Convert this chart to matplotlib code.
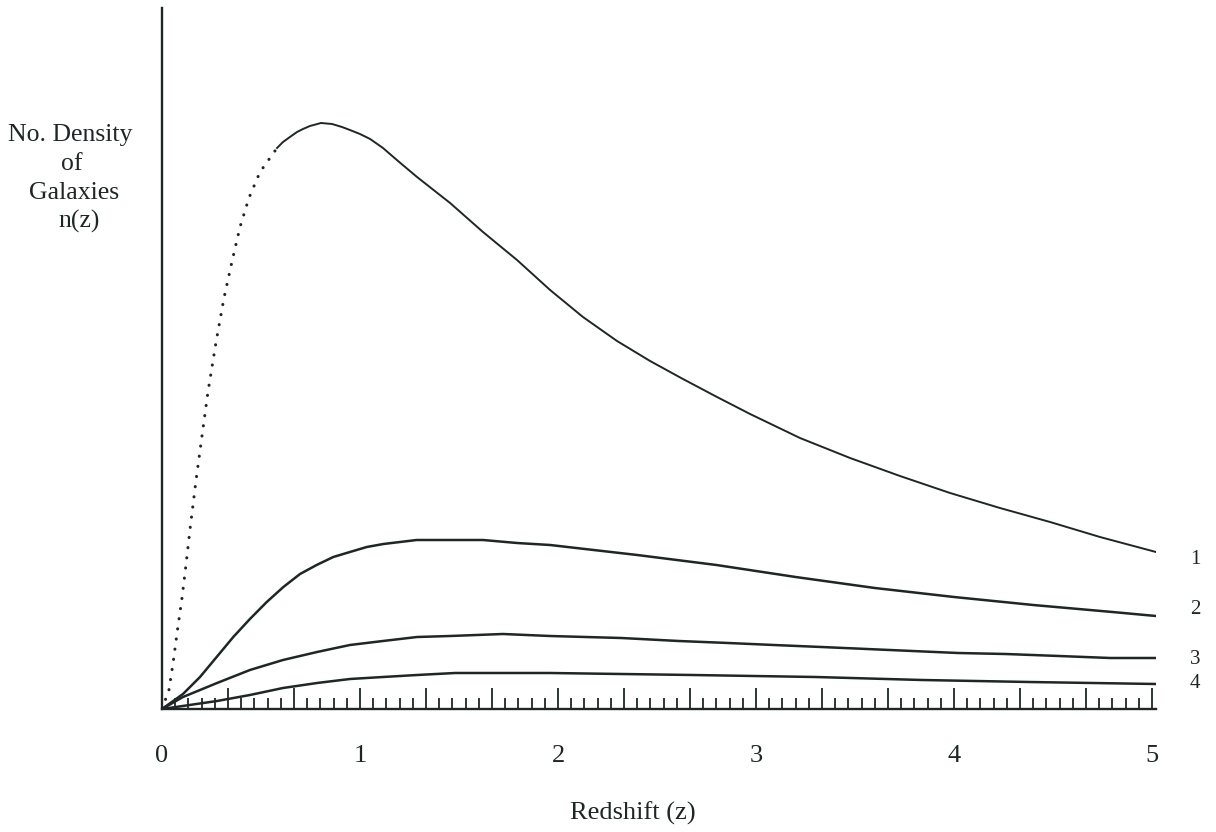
import matplotlib
matplotlib.use("Agg")
import matplotlib.pyplot as plt
from matplotlib.ticker import MultipleLocator, FuncFormatter

# ---- data (n in arbitrary units) ----
z_curve1 = [0.0, 0.035, 0.056, 0.076, 0.101, 0.121, 0.141, 0.172, 0.232, 0.273, 0.313,
            0.354, 0.394, 0.439, 0.495, 0.581, 0.611, 0.646, 0.682, 0.712, 0.747, 0.803,
            0.859, 0.909, 0.949, 1.0, 1.051, 1.116, 1.192, 1.288, 1.455, 1.621, 1.793,
            1.96, 2.126, 2.298, 2.465, 2.631, 2.803, 2.97, 3.222, 3.475, 3.727, 3.98,
            4.232, 4.485, 4.737, 5.02]
n_curve1 = [0, 19, 46, 76, 111, 144, 179, 229, 317, 367, 411,
            448, 482, 511, 537, 561, 567, 572, 577, 580, 583, 586,
            585, 582, 579, 575, 570, 561, 548, 532, 506, 477, 449,
            419, 392, 368, 348, 330, 312, 295, 271, 251, 233, 216,
            201, 187, 172, 157]
dotted_until = 0.581   # the steep rise of curve 1 is printed as separate dots

z_curve2 = [0.0, 0.106, 0.192, 0.276, 0.360, 0.444, 0.529, 0.613, 0.697, 0.781, 0.865,
            0.949, 1.034, 1.118, 1.202, 1.286, 1.37, 1.621, 1.793, 1.96, 2.4, 2.8,
            3.2, 3.6, 4.0, 4.4, 4.8, 5.02]
n_curve2 = [0, 15, 32, 52, 72, 90, 107, 122, 135, 144, 152,
            157, 162, 165, 167, 169, 169, 169, 166, 164, 154, 144,
            132, 121, 112, 104, 97, 93]

z_curve3 = [0.0, 0.106, 0.278, 0.444, 0.611, 0.783, 0.949, 1.116, 1.288, 1.455, 1.722,
            1.96, 2.32, 2.61, 2.86, 3.09, 3.33, 3.56, 3.79, 4.02, 4.26, 4.53, 4.79, 5.02]
n_curve3 = [0, 12, 26, 39, 49, 57, 64, 68, 72, 73, 75,
            73, 71, 68, 66, 64, 62, 60, 58, 56, 55, 53, 51, 51]

z_curve4 = [0.0, 0.278, 0.444, 0.611, 0.783, 0.949, 1.116, 1.288, 1.48, 1.96, 2.68,
            3.30, 3.84, 4.38, 5.02]
n_curve4 = [0, 8, 14, 21, 26, 30, 32, 34, 36, 36, 34,
            32, 29, 27, 25]

curve_labels = ["1", "2", "3", "4"]
x_tick_values = [0, 1, 2, 3, 4, 5]
x_label = "Redshift (z)"
y_label_lines = ["No. Density", "of", "Galaxies", "n(z)"]

# ---- figure ----
W, H = 1216, 832
fig = plt.figure(figsize=(W / 100, H / 100), dpi=100)
fig.patch.set_facecolor("white")
serif = "Liberation Serif"
ink = "#1f2626"

x0, x1 = 162, 1156
ytop, ybot = 8, 709
ax = fig.add_axes([x0 / W, (H - ybot) / H, (x1 - x0) / W, (ybot - ytop) / H])
ax.set_xlim(0, 5.02)
ax.set_ylim(0, ybot - ytop)

for s in ["top", "right"]:
    ax.spines[s].set_visible(False)
for s in ["left", "bottom"]:
    ax.spines[s].set_linewidth(1.7)
    ax.spines[s].set_color(ink)

ax.yaxis.set_visible(False)
ax.xaxis.set_major_locator(MultipleLocator(1 / 3))
ax.xaxis.set_minor_locator(MultipleLocator(1 / 15))


def fmt(v, pos):
    r = round(v)
    if abs(v - r) < 1e-6 and r in x_tick_values:
        return str(int(r))
    return ""


ax.xaxis.set_major_formatter(FuncFormatter(fmt))
ax.tick_params(axis="x", which="major", direction="in", length=15, width=1.3,
               color=ink, pad=26, labelsize=19, labelcolor=ink)
ax.tick_params(axis="x", which="minor", direction="in", length=7.8, width=1.3, color=ink)
for lab in ax.get_xticklabels():
    lab.set_fontfamily(serif)

# curves
i_split = z_curve1.index(dotted_until)
ax.plot(z_curve1[:i_split + 1], n_curve1[:i_split + 1], color=ink, lw=2.2,
        linestyle=(0, (0.05, 3.3)), dash_capstyle="round", solid_capstyle="round")
ax.plot(z_curve1[i_split:], n_curve1[i_split:], color=ink, lw=1.4)
ax.plot(z_curve2, n_curve2, color=ink, lw=1.8)
ax.plot(z_curve3, n_curve3, color=ink, lw=1.8)
ax.plot(z_curve4, n_curve4, color=ink, lw=1.8)

# curve number labels (to the right of the curve ends)
label_y = [560, 609, 659, 684]
for lab, yy in zip(curve_labels, label_y):
    fig.text(1195 / W, 1 - yy / H, lab, ha="center", va="center",
             fontsize=15, family=serif, color=ink)

# axis titles
fig.text(633 / W, 1 - 813 / H, x_label, ha="center", va="center",
         fontsize=19, family=serif, color=ink)
yl_pos = [(70, 141), (72, 170), (74, 199), (79, 228)]
for txt, (xx, yy) in zip(y_label_lines, yl_pos):
    fig.text(xx / W, 1 - yy / H, txt, ha="center", va="baseline",
             fontsize=18.5, family=serif, color=ink)

fig.savefig("out.png", dpi=100, facecolor="white")
